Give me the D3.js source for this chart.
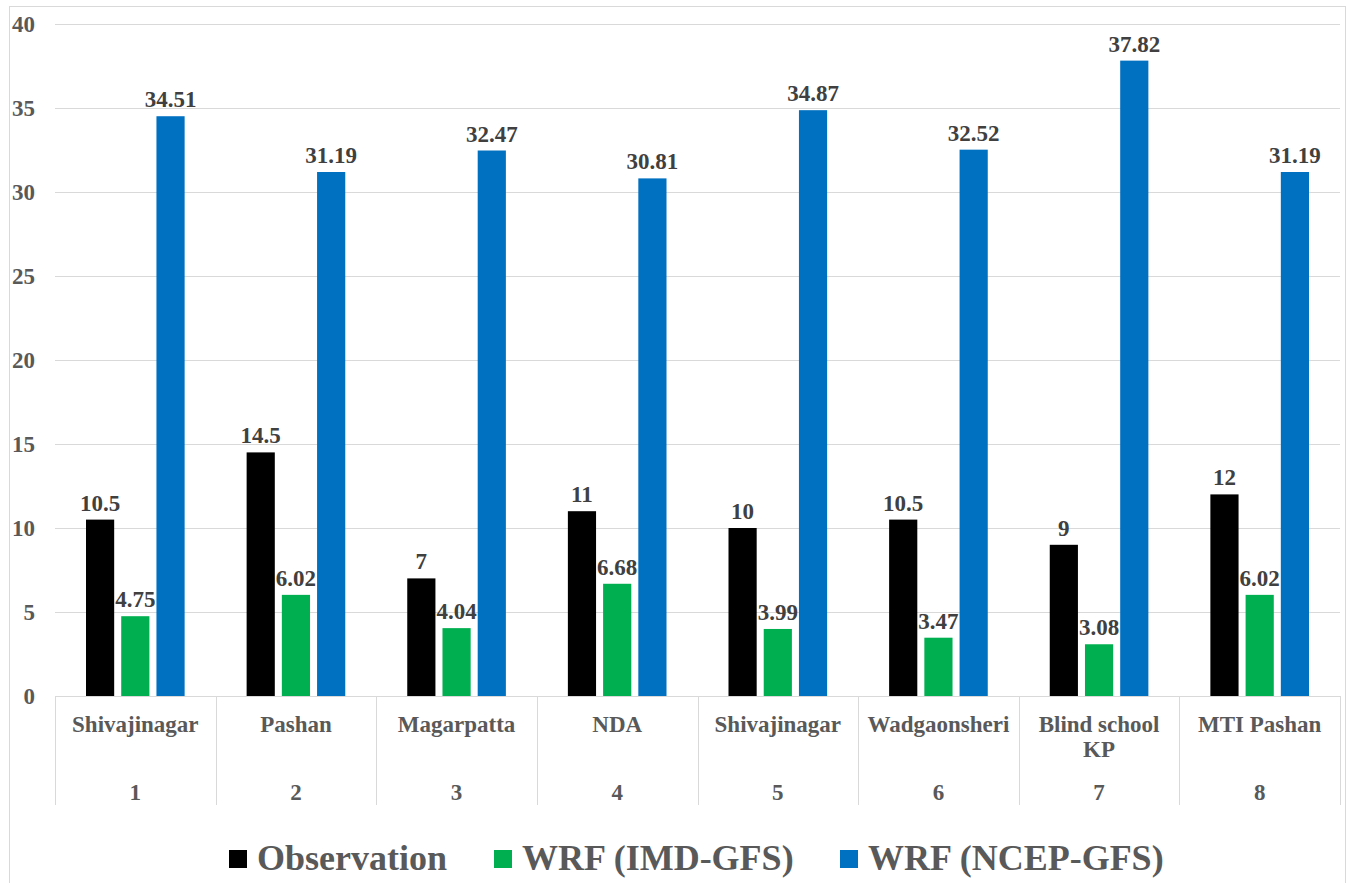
<!DOCTYPE html>
<html><head><meta charset="utf-8">
<script src="https://cdn.jsdelivr.net/npm/d3@7"></script>
<style>body{margin:0;background:#fff}svg{display:block}</style>
</head><body>
<svg id="c" width="1350" height="883"></svg>
<script>
const stations = ["Shivajinagar","Pashan","Magarpatta","NDA","Shivajinagar","Wadgaonsheri","Blind school\nKP","MTI Pashan"];
const groups = ["1","2","3","4","5","6","7","8"];
const seriesNames = ["Observation","WRF (IMD-GFS)","WRF (NCEP-GFS)"];
const observation = [10.5,14.5,7,11,10,10.5,9,12];
const imdGfs = [4.75,6.02,4.04,6.68,3.99,3.47,3.08,6.02];
const ncepGfs = [34.51,31.19,32.47,30.81,34.87,32.52,37.82,31.19];
const yTicks = [0,5,10,15,20,25,30,35,40];
const colors = ["#000000","#00B050","#0070C0"];

const values = [observation, imdGfs, ncepGfs];
const svg = d3.select("#c");
const L = 55, R = 1340, T = 24, B = 696;
function label(xp, yp, str, size, fill, anchor){
  return svg.append("text").attr("x",xp).attr("y",yp)
    .style("font-family","Liberation Serif")
    .attr("font-weight","bold").attr("font-size",size)
    .attr("fill",fill).attr("text-anchor",anchor).text(str);
}

svg.append("rect").attr("x",9.5).attr("y",6.5).attr("width",1336).attr("height",880)
  .attr("fill","none").attr("stroke","#d9d9d9");

const x = d3.scaleBand().domain(groups).range([L,R]).padding(0);
const xi = d3.scaleBand().domain(seriesNames).range([31, x.bandwidth()-31]).paddingInner(0.2);
const y = d3.scaleLinear().domain([0,40]).range([B,T]);

// gridlines
svg.append("g").selectAll("line").data(yTicks.slice(1)).join("line")
  .attr("x1",L).attr("x2",R).attr("y1",d=>Math.round(y(d))+0.5).attr("y2",d=>Math.round(y(d))+0.5)
  .attr("stroke","#d9d9d9").attr("stroke-width",1);

// y tick labels
yTicks.forEach(d=>label(35, y(d)+8, d, 23, "#595959", "end"));

// bars
groups.forEach((grp,i)=>{
  seriesNames.forEach((s,j)=>{
    const v = values[j][i];
    const bx = x(grp)+xi(s);
    svg.append("rect").attr("x",bx).attr("y",y(v)).attr("width",xi.bandwidth()).attr("height",B-y(v))
      .attr("fill",colors[j]);
  });
});
groups.forEach((grp,i)=>{
  seriesNames.forEach((s,j)=>{
    const v = values[j][i];
    const bx = x(grp)+xi(s);
    label(bx+xi.bandwidth()/2, y(v)-9, v, 23, "#404040", "middle");
  });
});

// x axis baseline
svg.append("line").attr("x1",L).attr("x2",R).attr("y1",B+0.5).attr("y2",B+0.5).attr("stroke","#d9d9d9");
// separators
svg.append("g").selectAll("line").data(groups.map(d=>x(d)).concat([R])).join("line")
  .attr("x1",d=>Math.round(d)+0.5).attr("x2",d=>Math.round(d)+0.5).attr("y1",B).attr("y2",805)
  .attr("stroke","#d9d9d9");

// station labels
groups.forEach((grp,i)=>{
  const cx = x(grp)+x.bandwidth()/2;
  stations[i].split("\n").forEach((ln,k)=>label(cx, 732+k*25, ln, 23, "#595959", "middle"));
  label(cx, 800, grp, 23, "#595959", "middle");
});

// legend
const legX = [229, 494, 840];
seriesNames.forEach((s,j)=>{
  svg.append("rect").attr("x",legX[j]).attr("y",850).attr("width",18).attr("height",18).attr("fill",colors[j]);
  label(legX[j]+28, 870, s, 36, "#595959", "start");
});
</script>
</body></html>
